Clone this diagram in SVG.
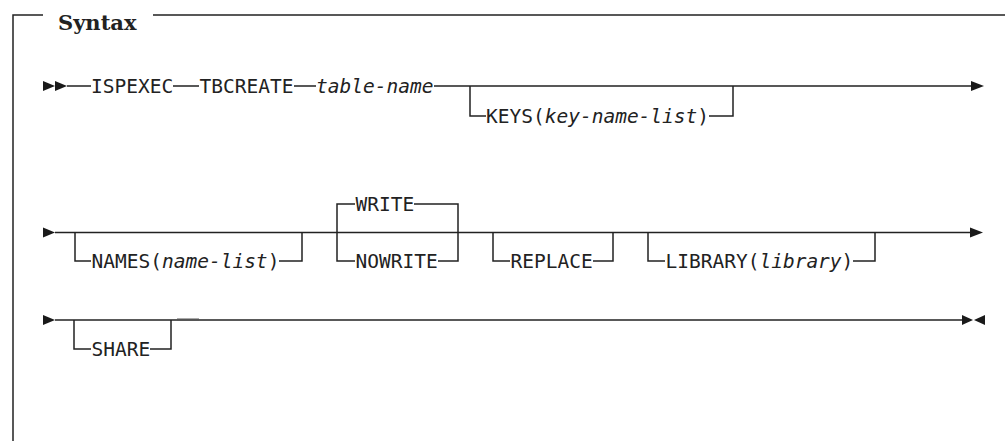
<svg xmlns="http://www.w3.org/2000/svg" width="1005" height="441" viewBox="0 0 1005 441">
<style>
  .ln{fill:none;stroke:#222;stroke-width:1.5}
  .ar{fill:#1a1a1a;stroke:none}
  .t{font-family:"DejaVu Sans Mono","Liberation Mono",monospace;font-size:19.5px;fill:#222}
  .i{font-style:italic}
  .title{font-family:"DejaVu Serif","Liberation Serif",serif;font-weight:bold;font-size:21px;fill:#222}
</style>
<rect width="1005" height="441" fill="#fff"/>
<g id="frame">
  <path class="ln" d="M13 441 V15 H43 M153 15 H1005"/>
  <text class="title" x="58" y="30">Syntax</text>
</g>
<g id="connectors">
  <path class="ln" d="M67 86 H91 M173 86 H199 M294 86 H316 M434 86 H972"/>
  <path class="ln" d="M470 86 V116 H486 M709 116 H733 V86"/>
  <path class="ln" d="M55 232.5 H971"/>
  <path class="ln" d="M75 232.5 V261 H91 M279 261 H302 V232.5"/>
  <path class="ln" d="M355 204 H337 V261 H355 M414 204 H458 V261 H438"/>
  <path class="ln" d="M493 232.5 V261 H510 M593 261 H613 V232.5"/>
  <path class="ln" d="M648 232.5 V261 H665 M853 261 H875 V232.5"/>
  <path class="ln" d="M55 320 H962"/>
  <path class="ln" d="M74 320 V349 H91 M150 349 H171 V320"/>
  <path d="M177 319.6 H199" stroke="#555" stroke-width="2.2" fill="none"/>
  <polygon class="ar" points="43,81 55,86 43,91"/>
  <polygon class="ar" points="55,81 67,86 55,91"/>
  <polygon class="ar" points="971,81 984,86 971,91"/>
  <polygon class="ar" points="43,227.5 55,232.5 43,237.5"/>
  <polygon class="ar" points="970,227.5 983,232.5 970,237.5"/>
  <polygon class="ar" points="43,315 55,320 43,325"/>
  <polygon class="ar" points="962,315 973,320 962,325"/>
  <polygon class="ar" points="985,315 974,320 985,325"/>
</g>
<g id="ispexec"><text class="t" x="91" y="93">ISPEXEC</text></g>
<g id="tbcreate"><text class="t" x="199.5" y="93">TBCREATE</text></g>
<g id="table-name"><text class="t i" x="316" y="93">table-name</text></g>
<g id="keys"><text class="t" x="486" y="123">KEYS(<tspan class="i">key-name-list</tspan>)</text></g>
<g id="names"><text class="t" x="91.5" y="268">NAMES(<tspan class="i">name-list</tspan>)</text></g>
<g id="write"><text class="t" x="355.5" y="211">WRITE</text></g>
<g id="nowrite"><text class="t" x="355.5" y="268">NOWRITE</text></g>
<g id="replace"><text class="t" x="510.5" y="268">REPLACE</text></g>
<g id="library"><text class="t" x="665.5" y="268">LIBRARY(<tspan class="i">library</tspan>)</text></g>
<g id="share"><text class="t" x="91.5" y="356">SHARE</text></g>
</svg>
